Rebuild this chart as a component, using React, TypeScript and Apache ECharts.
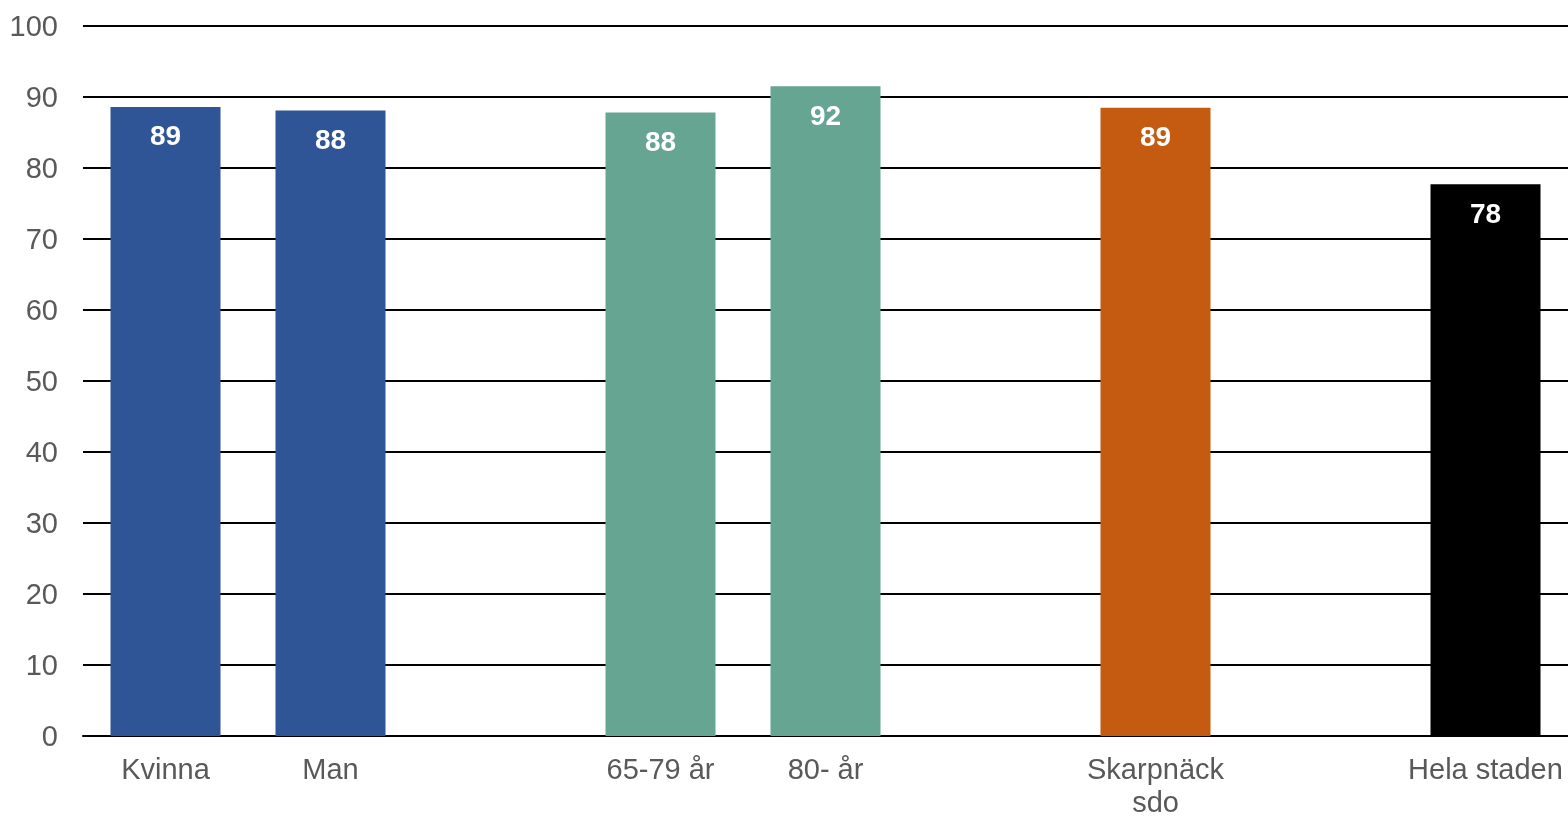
import React, { useEffect, useRef } from "react";
import * as echarts from "echarts";

const categories = ["Kvinna", "Man", "", "65-79 år", "80- år", "", "Skarpnäck\nsdo", "", "Hela staden"];
const values: (number | null)[] = [88.6, 88.1, null, 87.8, 91.5, null, 88.5, null, 77.7];
const barColors = ["#2F5597", "#2F5597", "#2F5597", "#66A592", "#66A592", "#66A592", "#C55A11", "#C55A11", "#000000"];
const yTicks = { min: 0, max: 100, interval: 10 };

export default function App() {
  const ref = useRef<HTMLDivElement>(null);
  useEffect(() => {
    document.body.style.margin = "0";
    const chart = echarts.init(ref.current!, null, { renderer: "svg" });
    chart.setOption({
      animation: false,
      grid: { left: 83, right: 0, top: 26, bottom: 81, containLabel: false },
      xAxis: {
        type: "category",
        data: categories,
        axisTick: { show: false },
        axisLine: { lineStyle: { color: "#000", width: 2 } },
        axisLabel: {
          color: "#595959",
          fontSize: 29,
          fontFamily: "Liberation Sans, Arial, sans-serif",
          margin: 16,
          lineHeight: 33,
          interval: 0,
        },
      },
      yAxis: {
        type: "value",
        min: yTicks.min,
        max: yTicks.max,
        interval: yTicks.interval,
        axisLine: { show: false },
        axisTick: { show: false },
        splitLine: { lineStyle: { color: "#000", width: 2 } },
        axisLabel: {
          color: "#595959",
          fontSize: 29,
          fontFamily: "Liberation Sans, Arial, sans-serif",
          margin: 25,
        },
      },
      series: [
        {
          type: "bar",
          barWidth: 110,
          data: values.map((v, i) =>
            v == null ? "-" : { value: v, itemStyle: { color: barColors[i] } }
          ),
          label: {
            show: true,
            position: "insideTop",
            distance: 15,
            color: "#fff",
            fontWeight: "bold",
            fontSize: 28,
            fontFamily: "Liberation Sans, Arial, sans-serif",
            formatter: (p: any) => String(Math.round(p.value)),
          },
        },
      ],
    });
    return () => chart.dispose();
  }, []);
  return (
    <div
      ref={ref}
      style={{ position: "fixed", left: 0, top: 0, width: 1568, height: 818, overflow: "hidden" }}
    />
  );
}
